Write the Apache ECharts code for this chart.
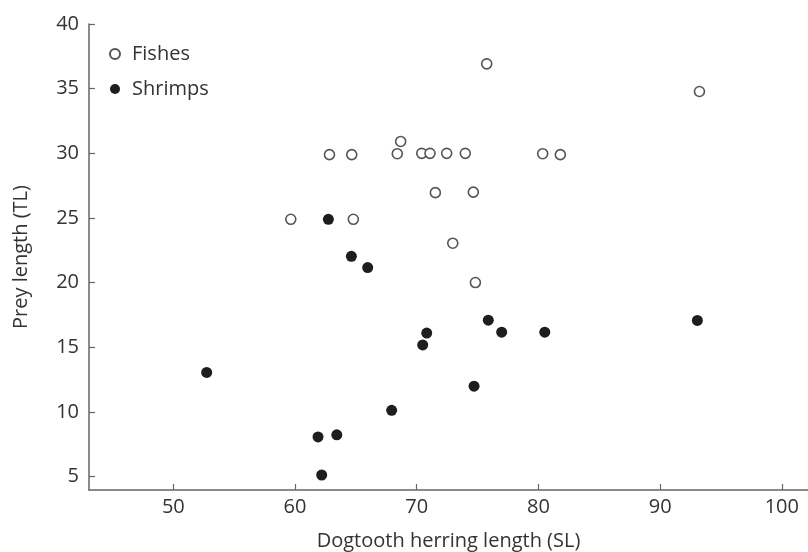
<!DOCTYPE html>
<html>
<head>
<meta charset="utf-8">
<script src="https://cdn.jsdelivr.net/npm/echarts@6/dist/echarts.min.js"></script>
<style>html,body{margin:0;padding:0;background:#fff}#c{width:808px;height:552px}</style>
</head>
<body>
<div id="c"></div>
<script>
const fishesX = [59.65, 62.83, 64.66, 64.79, 68.40, 68.68, 70.41, 71.09, 71.53, 72.46, 72.96, 73.99, 74.65, 74.82, 75.75, 80.35, 81.80, 93.23];
const fishesY = [24.9, 29.9, 29.9, 24.9, 29.97, 30.92, 30.0, 30.0, 26.96, 30.0, 23.05, 30.0, 27.0, 20.01, 36.92, 29.97, 29.9, 34.78];
const shrimpsX = [52.74, 61.89, 62.19, 62.74, 63.43, 64.63, 65.97, 67.94, 70.49, 70.82, 74.71, 75.88, 76.98, 80.52, 93.06];
const shrimpsY = [13.06, 8.07, 5.13, 24.9, 8.24, 22.04, 21.17, 10.13, 15.19, 16.1, 12.0, 17.1, 16.17, 16.17, 17.08];
const xTicks = [50, 60, 70, 80, 90, 100];
const yTicks = [5, 10, 15, 20, 25, 30, 35, 40];

const FONT = 'Open Sans';
const TXT = '#333';
const AX = '#666';
const chart = echarts.init(document.getElementById('c'), null, {renderer: 'canvas'});
chart.setOption({
  animation: false,
  backgroundColor: '#fff',
  textStyle: {fontFamily: FONT},
  grid: {left: 89, top: 24, right: 0, bottom: 62, containLabel: false, outerBoundsMode: 'none'},
  legend: {
    orient: 'vertical', left: 104, top: 39, itemGap: 15,
    itemWidth: 14, itemHeight: 10,
    textStyle: {fontFamily: FONT, fontSize: 20, color: TXT, padding: [0,0,0,5]},
    data: ['Fishes', 'Shrimps']
  },
  xAxis: {
    type: 'value', min: 43.07, max: 102.15,
    name: 'Dogtooth herring length (SL)', nameLocation: 'middle', nameGap: 41,
    nameTextStyle: {fontFamily: FONT, fontSize: 20, color: TXT},
    axisLine: {show: true, lineStyle: {color: AX, width: 1.5}},
    axisTick: {show: true, inside: true, length: 6, customValues: xTicks, lineStyle: {color: AX, width: 1.2}},
    axisLabel: {customValues: xTicks, fontFamily: FONT, fontSize: 20, color: TXT, margin: 7},
    splitLine: {show: false}
  },
  yAxis: {
    type: 'value', min: 3.97, max: 40,
    name: 'Prey length (TL)', nameLocation: 'middle', nameGap: 58,
    nameTextStyle: {fontFamily: FONT, fontSize: 20, color: TXT},
    axisLine: {show: true, lineStyle: {color: AX, width: 1.5}},
    axisTick: {show: true, inside: true, length: 6, customValues: yTicks, lineStyle: {color: AX, width: 1.2}},
    axisLabel: {customValues: yTicks, fontFamily: FONT, fontSize: 20, color: TXT, margin: 10},
    splitLine: {show: false}
  },
  series: [
    {
      name: 'Fishes', type: 'scatter', symbol: 'circle', symbolSize: 10,
      itemStyle: {color: '#fff', borderColor: '#555', borderWidth: 1.6, opacity: 1},
      data: fishesX.map((x, i) => [x, fishesY[i]])
    },
    {
      name: 'Shrimps', type: 'scatter', symbol: 'circle', symbolSize: 11,
      itemStyle: {color: '#1e1e1e', borderWidth: 0, opacity: 1},
      data: shrimpsX.map((x, i) => [x, shrimpsY[i]])
    }
  ]
});
</script>
</body>
</html>
